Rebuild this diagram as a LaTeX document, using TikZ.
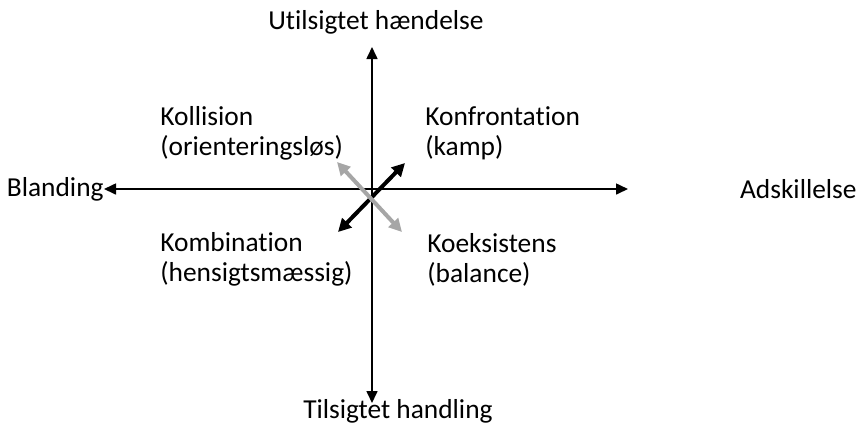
\documentclass[tikz,border=0pt]{standalone}
\usepackage{fontspec}
\setmainfont[Ligatures=NoCommon]{Carlito}
\usetikzlibrary{arrows.meta}

\colorlet{figGray}{black!35}

\begin{document}
\begin{tikzpicture}[x=0.5pt,y=-0.5pt,
    axis/.style={line width=0.8pt,-{Triangle[length=6pt,width=5.5pt]}},
    dirarrow/.style={line width=2pt,{Triangle[length=6.5pt,width=6.5pt]}-{Triangle[length=6.5pt,width=6.5pt]}},
    lbl/.style={font=\fontsize{13.7}{15}\selectfont, inner sep=0pt},
    quad/.style={lbl, align=left, anchor=west}]
        \useasboundingbox (0,0) rectangle (862,425);
        \coordinate (O) at (372,189);
        % axis labels
        \node[lbl, anchor=east] (blanding) at (104,189){Blanding};
        \node[lbl, anchor=east] (adskil) at (857,189){Adskillelse};
        \node[lbl] (uheld) at (376,22){Utilsigtet hændelse};
        \node[lbl, anchor=base] (handling) at (398,418){Tilsigtet handling};
        \coordinate (rtip) at (628,189);
        \coordinate (ttip) at (372,47);
        \coordinate (btip) at (372,403);
        % axes
        \draw[axis](O)--(blanding.east);
        \draw[axis](O)--(rtip);
        \draw[axis](O)--(ttip);
        \draw[axis](O)--(btip);
        % quadrants
        \node[quad] (kollision) at (160,133){Kollision\\(orienteringsløs)};
        \node[quad] (konfront) at (425,133){Konfrontation\\(kamp)};
        \node[quad] (kombi) at (160,259.5){Kombination\\(hensigtsmæssig)};
        \node[quad] (koeks) at (427,259.5){Koeksistens\\(balance)};
        % directions
        \coordinate (bl) at (338,232);
        \coordinate (tr) at (405,163);
        \coordinate (tl) at (337,162);
        \coordinate (br) at (402,232);
        \draw[dirarrow](bl)--(tr);
        \draw[dirarrow, figGray](tl)--(br);
      \end{tikzpicture}
\end{document}
